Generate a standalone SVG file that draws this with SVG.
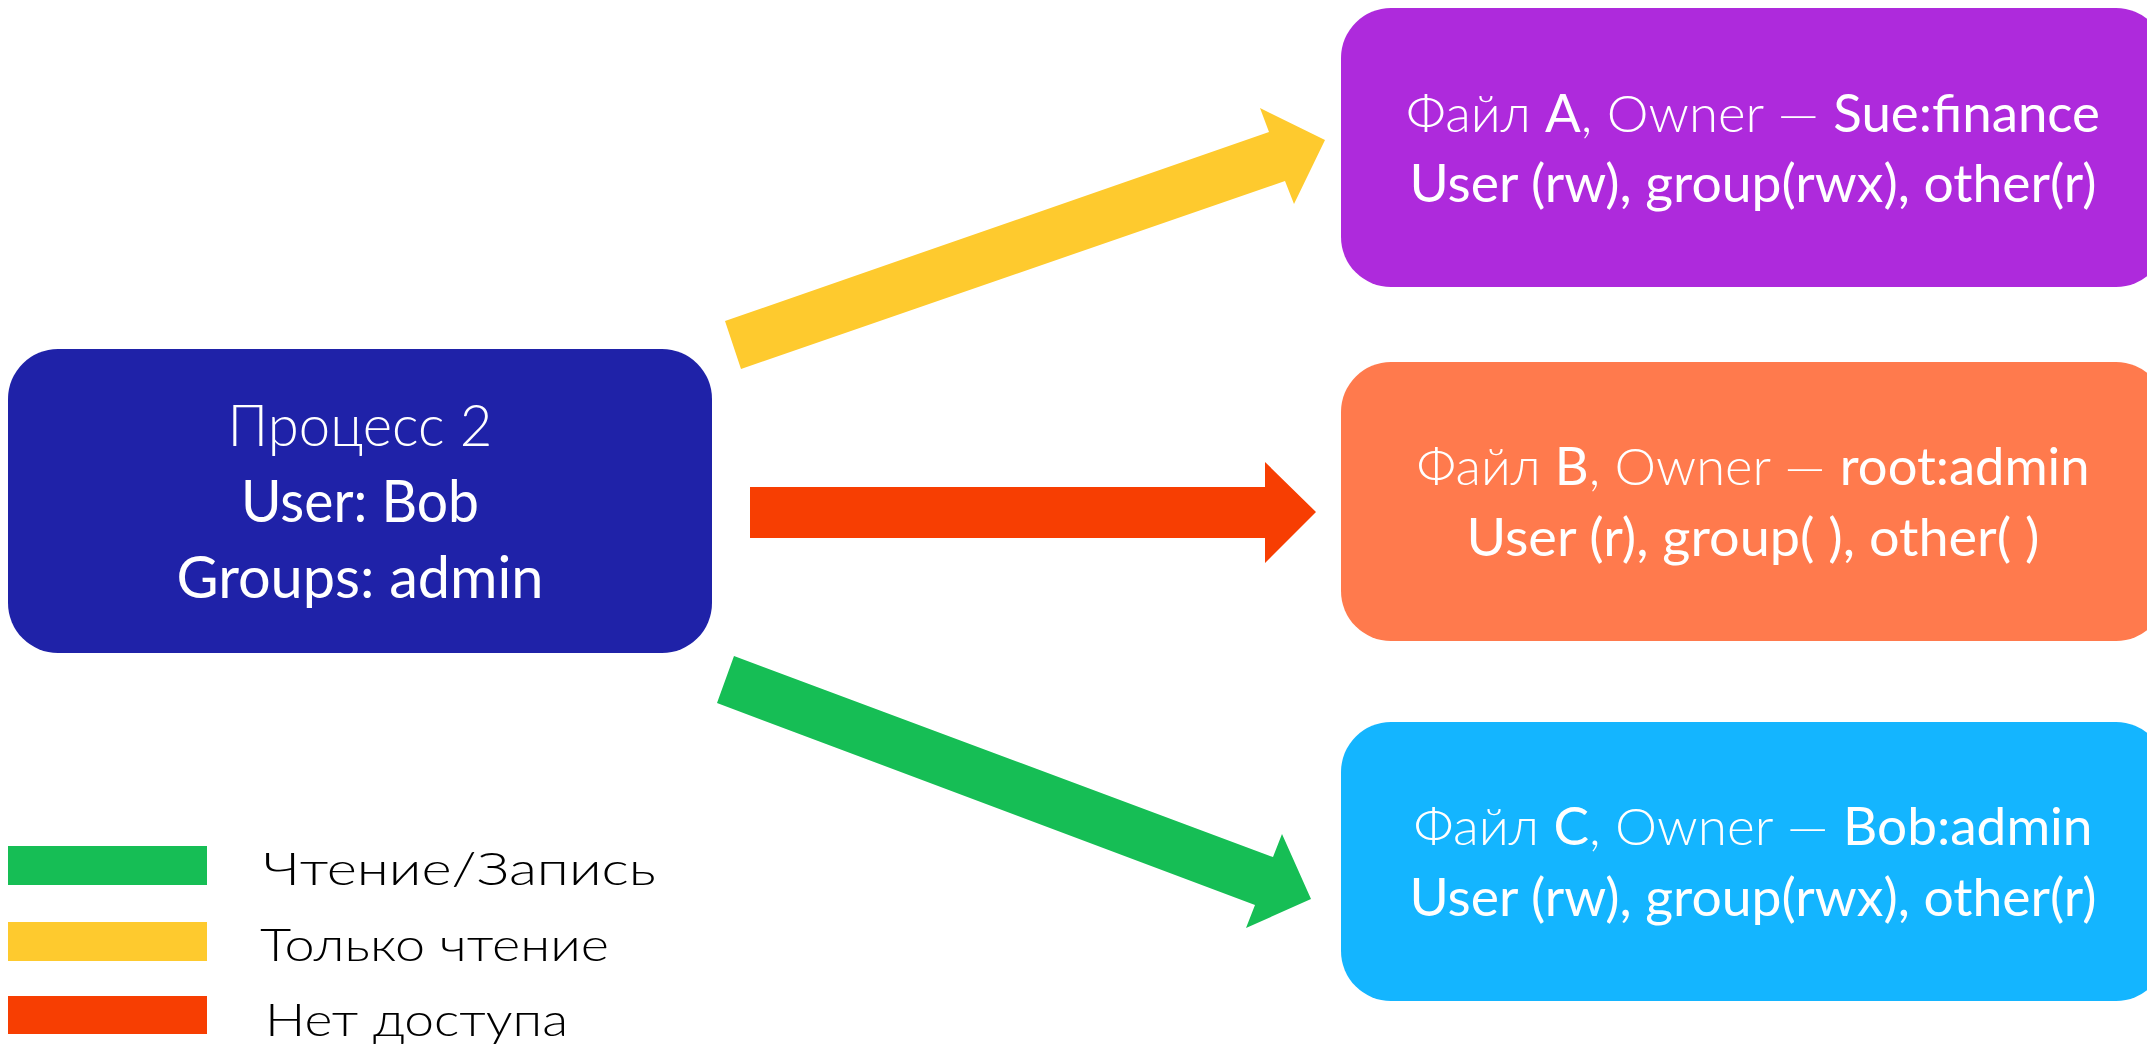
<svg xmlns="http://www.w3.org/2000/svg" width="2147" height="1047" viewBox="0 0 2147 1047">
  <style>
    .t { font-family: Lato, "Noto Sans", "DejaVu Sans", sans-serif; fill: #ffffff; }
    .lt { font-weight: 300; }
    .rg { font-weight: 400; }
    .node-text { font-size: 58px; }
    .file-text { font-size: 52px; }
    .legend-text { font-family: Lato, "Noto Sans", "DejaVu Sans", sans-serif; font-weight: 300; font-size: 46px; fill: #000000; }
  </style>
  <rect width="2147" height="1047" fill="#ffffff"/>

  <!-- process -->
  <g id="process2">
    <rect x="8" y="349" width="704" height="304" rx="50" ry="50" fill="#1F22A8"/>
    <text class="t lt node-text" x="360" y="446" text-anchor="middle" textLength="265" lengthAdjust="spacingAndGlyphs">Процесс 2</text>
    <text class="t rg node-text" x="360" y="522" text-anchor="middle" textLength="238" lengthAdjust="spacingAndGlyphs">User: Bob</text>
    <text class="t rg node-text" x="360" y="598" text-anchor="middle" textLength="367" lengthAdjust="spacingAndGlyphs">Groups: admin</text>
  </g>

  <!-- files -->
  <g id="fileA">
    <rect x="1341" y="8" width="825" height="279" rx="50" ry="50" fill="#AE2ADC"/>
    <text class="t file-text" x="1753" y="132" text-anchor="middle" textLength="694" lengthAdjust="spacingAndGlyphs"><tspan class="lt">Файл </tspan><tspan class="rg">A</tspan><tspan class="lt">, Owner — </tspan><tspan class="rg">Sue:finance</tspan></text>
    <text class="t rg file-text" x="1753" y="202" text-anchor="middle" textLength="687" lengthAdjust="spacingAndGlyphs">User (rw), group(rwx), other(r)</text>
  </g>
  <g id="fileB">
    <rect x="1341" y="362" width="825" height="279" rx="50" ry="50" fill="#FF7A4D"/>
    <text class="t file-text" x="1753" y="485" text-anchor="middle" textLength="673" lengthAdjust="spacingAndGlyphs"><tspan class="lt">Файл </tspan><tspan class="rg">B</tspan><tspan class="lt">, Owner — </tspan><tspan class="rg">root:admin</tspan></text>
    <text class="t rg file-text" x="1753" y="556" text-anchor="middle" textLength="573" lengthAdjust="spacingAndGlyphs">User (r), group( ), other( )</text>
  </g>
  <g id="fileC">
    <rect x="1341" y="722" width="825" height="279" rx="50" ry="50" fill="#14B5FF"/>
    <text class="t file-text" x="1753" y="845" text-anchor="middle" textLength="679" lengthAdjust="spacingAndGlyphs"><tspan class="lt">Файл </tspan><tspan class="rg">C</tspan><tspan class="lt">, Owner — </tspan><tspan class="rg">Bob:admin</tspan></text>
    <text class="t rg file-text" x="1753" y="916" text-anchor="middle" textLength="687" lengthAdjust="spacingAndGlyphs">User (rw), group(rwx), other(r)</text>
  </g>

  <!-- access arrows (block arrows) -->
  <g id="connectors">
    <polygon id="arrow-read" fill="#FECA2E" points="725,321 1269,132 1260,108 1325,140 1294,204 1285,181 741,369"/>
    <polygon id="arrow-none" fill="#F73E02" points="750,487 1265,487 1265,462 1316,512 1265,563 1265,538 750,538"/>
    <polygon id="arrow-rw" fill="#16BE55" points="734,656 1273,857 1282,834 1311,899 1246,928 1255,905 717,703"/>
  </g>

  <!-- legend -->
  <g id="legend">
    <rect x="8" y="846" width="199" height="39" fill="#16BE55"/>
    <rect x="8" y="922" width="199" height="39" fill="#FECA2E"/>
    <rect x="8" y="996" width="199" height="38" fill="#F73E02"/>
    <text class="legend-text" x="263" y="885" textLength="393" lengthAdjust="spacingAndGlyphs">Чтение/Запись</text>
    <text class="legend-text" x="260" y="961" textLength="349" lengthAdjust="spacingAndGlyphs">Только чтение</text>
    <text class="legend-text" x="265" y="1036" textLength="303" lengthAdjust="spacingAndGlyphs">Нет доступа</text>
  </g>
</svg>
